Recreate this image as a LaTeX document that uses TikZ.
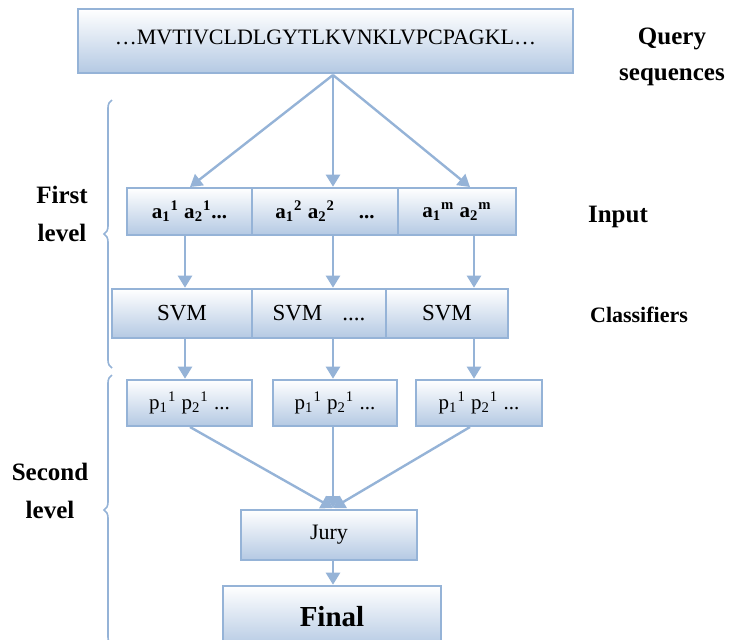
\documentclass[tikz,border=0pt]{standalone}
\usepackage{fontspec}
\setmainfont{Liberation Serif}
\usetikzlibrary{arrows.meta,decorations.pathreplacing,calc}
\definecolor{edge}{HTML}{95B3D7}
\definecolor{shade}{HTML}{B4C9E3}
\tikzset{
  box/.style={draw=edge, line width=1.3pt, top color=white, bottom color=shade,
    inner sep=0pt, align=center},
  flow/.style={draw=edge, line width=1.2pt, -{Triangle[width=7pt,length=6pt]}},
  brc/.style={draw=edge, line width=0.8pt, decorate,
    decoration={brace, amplitude=4pt, aspect=0.5}},
  side/.style={font=\fontsize{12.5}{19}\selectfont\bfseries, align=center},
}
\begin{document}
\begin{tikzpicture}[x=0.5pt, y=-0.5pt]
\useasboundingbox (0,0) rectangle (729,639);
\clip (0,0) rectangle (729,639);

% query sequence
\node[box, minimum width=247.5pt, minimum height=32pt] (query) at (325.5,41)
  {\fontsize{11}{12}\selectfont\dots MVTIVCLDLGYTLKVNKLVPCPAGKL\dots\rule[-4pt]{0pt}{0pt}};
\node[side, font=\fontsize{12.5}{18}\selectfont\bfseries] (lq) at (672,57) {Query\\sequences};

% input features
\node[box, minimum width=62.5pt, minimum height=23.5pt] (in1) at (189.5,211.5)
  {\fontsize{10.5}{12}\selectfont\bfseries a\textsubscript{1}\textsuperscript{1} a\textsubscript{2}\textsuperscript{1}...};
\node[box, minimum width=73pt, minimum height=23.5pt] (in2) at (325,211.5)
  {\fontsize{10.5}{12}\selectfont\bfseries a\textsubscript{1}\textsuperscript{2} a\textsubscript{2}\textsuperscript{2}\hspace{12pt}...};
\node[box, minimum width=59pt, minimum height=23.5pt] (in3) at (457,211.5)
  {\fontsize{10.5}{12}\selectfont\bfseries a\textsubscript{1}\textsuperscript{m} a\textsubscript{2}\textsuperscript{m}};
\node[side, font=\fontsize{12.5}{13}\selectfont\bfseries] (lin) at (618,217) {Input};

% classifiers
\node[box, minimum width=70pt, minimum height=24.5pt] (svm1) at (182,313.5)
  {\fontsize{11.5}{12}\selectfont SVM};
\node[box, minimum width=67pt, minimum height=24.5pt] (svm2) at (319,313.5)
  {\fontsize{11.5}{12}\selectfont SVM\hspace{10pt}....};
\node[box, minimum width=61pt, minimum height=24.5pt] (svm3) at (447,313.5)
  {\fontsize{11.5}{12}\selectfont SVM};
\node[side, font=\fontsize{11}{12}\selectfont\bfseries] (lcl) at (639,315) {Classifiers};

% outputs of the classifiers
\node[box, minimum width=62.5pt, minimum height=23pt] (p1) at (189.5,403)
  {\fontsize{10.5}{12}\selectfont p\textsubscript{1}\textsuperscript{1} p\textsubscript{2}\textsuperscript{1} ...};
\node[box, minimum width=62pt, minimum height=23pt] (p2) at (335,403)
  {\fontsize{10.5}{12}\selectfont p\textsubscript{1}\textsuperscript{1} p\textsubscript{2}\textsuperscript{1} ...};
\node[box, minimum width=63pt, minimum height=23pt] (p3) at (479,403)
  {\fontsize{10.5}{12}\selectfont p\textsubscript{1}\textsuperscript{1} p\textsubscript{2}\textsuperscript{1} ...};

% jury and final decision
\node[box, minimum width=88pt, minimum height=25pt] (jury) at (329,535)
  {\fontsize{11}{12}\selectfont Jury};
\node[box, minimum width=109pt, minimum height=31pt] (final) at (332,617)
  {\fontsize{14.5}{15}\selectfont\bfseries Final};

% column positions
\coordinate (k0) at (333,75);
\coordinate (k1) at (185,0);
\coordinate (k2) at (333,0);
\coordinate (k3) at (474,0);
\coordinate (t1) at (190,187);
\coordinate (t3) at (470,187);

% query -> input
\draw[flow] (k0) -- (t1);
\draw[flow] (k0) -- (in2.north -| k2);
\draw[flow] (k0) -- (t3);

% input -> classifiers
\draw[flow] (in1.south -| k1) -- (svm1.north -| k1);
\draw[flow] (in2.south -| k2) -- (svm2.north -| k2);
\draw[flow] (in3.south -| k3) -- (svm3.north -| k3);

% classifiers -> outputs
\draw[flow] (svm1.south -| k1) -- (p1.north -| k1);
\draw[flow] (svm2.south -| k2) -- (p2.north -| k2);
\draw[flow] (svm3.south -| k3) -- (p3.north -| k3);

% outputs -> jury
\coordinate (j0) at (333,508);
\draw[flow] (190,427) -- (j0);
\draw[flow] (p2.south -| k2) -- (j0);
\draw[flow] (470,427) -- (j0);

% jury -> final
\draw[flow] (jury.south -| k2) -- (final.north -| k2);

% level braces
\draw[brc] (112,368) -- (112,100);
\draw[brc] (112,645) -- (112,375);
\node[side] (l1) at (62,214) {First\\level};
\node[side] (l2) at (50,491) {Second\\level};
\end{tikzpicture}
\end{document}
